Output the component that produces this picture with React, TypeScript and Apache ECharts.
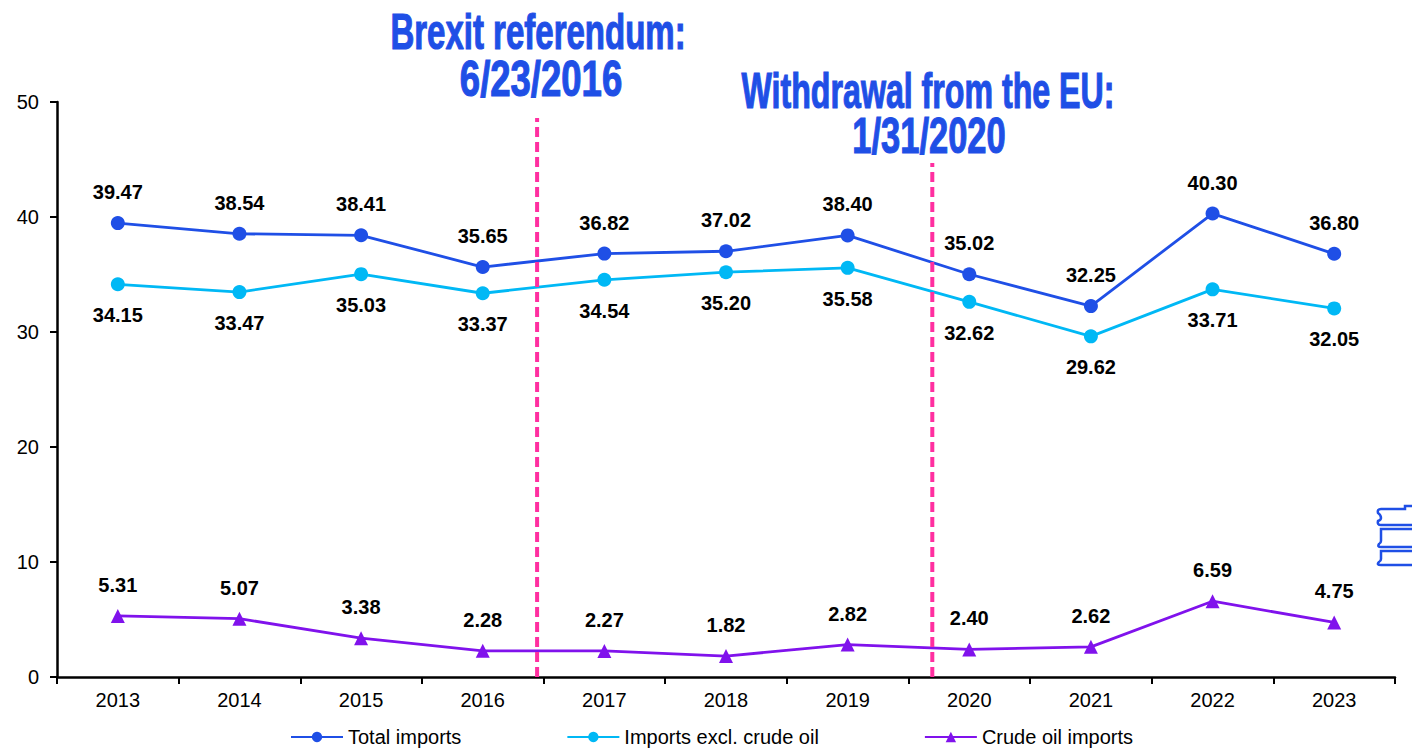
import React, { useEffect, useRef } from "react";
import * as echarts from "echarts";

const years = ["2013", "2014", "2015", "2016", "2017", "2018", "2019", "2020", "2021", "2022", "2023"];
const totalImports = [39.47, 38.54, 38.41, 35.65, 36.82, 37.02, 38.4, 35.02, 32.25, 40.3, 36.8];
const exclCrude = [34.15, 33.47, 35.03, 33.37, 34.54, 35.2, 35.58, 32.62, 29.62, 33.71, 32.05];
const crudeImports = [5.31, 5.07, 3.38, 2.28, 2.27, 1.82, 2.82, 2.4, 2.62, 6.59, 4.75];
const referendumLine = [[3.447, 0], [3.447, 48.6]];
const withdrawalLine = [[6.696, 0], [6.696, 44.7]];

const BLUE = "#1F4FE6";
const CYAN = "#00B8F5";
const PURPLE = "#8012EC";
const PINK = "#FF2FA0";
const SANS = '"Liberation Sans", Arial, sans-serif';

// Stack of barrels, cut off by the right edge of the page
const barrelPath =
  "M1420 506 H1405 V509 H1381 Q1377 509 1378 513 Q1381 515 1381 518 Q1381 520 1378 521 Q1377 525 1381 525 H1420 " +
  "M1420 529 H1381 V541 Q1381 543 1379 544 Q1377 547 1381 547 H1420 " +
  "M1420 551 H1381 V559 Q1381 561 1379 562 Q1376 565 1381 565 H1420";
echarts.graphic.registerShape("barrels", echarts.graphic.extendPath(barrelPath, {}) as any);

const headline = (text: string, x: number, y: number, scaleX: number) => ({
  type: "text",
  x,
  y,
  scaleX,
  silent: true,
  style: {
    text,
    fill: BLUE,
    stroke: BLUE,
    lineWidth: 1.2,
    font: `bold 50px ${SANS}`,
    textAlign: "center",
    textVerticalAlign: "middle",
  },
});

const lineSeries = (name: string, data: number[], color: string, symbol: string, position: string) => ({
  name,
  type: "line",
  data,
  symbol,
  symbolSize: 14,
  lineStyle: { color, width: 2.8 },
  itemStyle: { color },
  label: {
    show: true,
    position,
    distance: 14,
    color: "#000",
    fontFamily: SANS,
    fontSize: 20,
    fontWeight: "bold",
    formatter: (p: any) => Number(p.value).toFixed(2),
  },
});

const dateLine = (data: number[][]) => ({
  type: "line",
  xAxisIndex: 1,
  data,
  symbol: "none",
  silent: true,
  lineStyle: { color: PINK, width: 4, type: [10, 5] },
  z: 5,
});

export default function App() {
  const ref = useRef<HTMLDivElement>(null);
  useEffect(() => {
    const chart = echarts.init(ref.current!, undefined, { renderer: "svg" });
    chart.setOption({
      animation: false,
      backgroundColor: "#fff",
      grid: { left: 57, right: 17, top: 102, bottom: 73 },
      legend: {
        data: ["Total imports", "Imports excl. crude oil", "Crude oil imports"],
        left: 285,
        top: 722,
        itemWidth: 52,
        itemHeight: 13,
        itemGap: 105,
        textStyle: { color: "#000", fontFamily: SANS, fontSize: 20 },
      },
      xAxis: [
        {
          type: "category",
          data: years,
          axisLine: { lineStyle: { color: "#000", width: 2.5 } },
          axisTick: { show: true, length: 7, alignWithLabel: false, lineStyle: { color: "#000", width: 2 } },
          axisLabel: { color: "#000", fontFamily: SANS, fontSize: 20, margin: 13 },
        },
        { type: "value", min: -0.5, max: 10.5, show: false },
      ],
      yAxis: {
        type: "value",
        min: 0,
        max: 50,
        interval: 10,
        splitLine: { show: false },
        axisLine: { show: true, onZero: false, lineStyle: { color: "#000", width: 2.5 } },
        axisTick: { show: true, length: 7, lineStyle: { color: "#000", width: 2 } },
        axisLabel: { color: "#000", fontFamily: SANS, fontSize: 20, margin: 18 },
      },
      series: [
        lineSeries("Total imports", totalImports, BLUE, "circle", "top"),
        lineSeries("Imports excl. crude oil", exclCrude, CYAN, "circle", "bottom"),
        lineSeries("Crude oil imports", crudeImports, PURPLE, "triangle", "top"),
        dateLine(referendumLine),
        dateLine(withdrawalLine),
      ],
      graphic: [
        headline("Brexit referendum:", 538, 32, 0.66),
        headline("6/23/2016", 541, 78, 0.73),
        headline("Withdrawal from the EU:", 928, 91, 0.643),
        headline("1/31/2020", 929, 136, 0.69),
        {
          type: "barrels",
          silent: true,
          style: { fill: "none", stroke: BLUE, lineWidth: 2.5 },
        },
      ],
    });
    return () => chart.dispose();
  }, []);
  return <div ref={ref} style={{ position: "fixed", left: 0, top: 0, width: 1412, height: 750 }} />;
}
